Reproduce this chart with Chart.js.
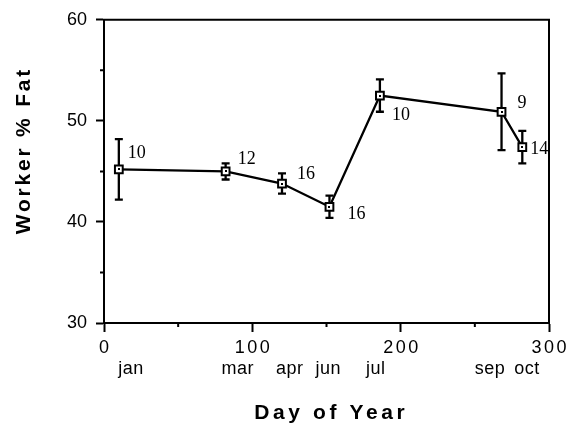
<!DOCTYPE html>
<html>
<head>
<meta charset="utf-8">
<script src="https://cdn.jsdelivr.net/npm/chart.js@4.4.0/dist/chart.umd.min.js"></script>
<style>
  html, body { margin: 0; padding: 0; background: #fff; }
  #wrap { width: 577px; height: 428px; }
</style>
</head>
<body>
<div id="wrap"><canvas id="c" width="577" height="428"></canvas></div>
<script>
// Worker body fat through the year: mean, error half-width and sample size
const days = [10, 82, 120, 152, 186, 268, 282];
const fatPct = [45.2, 45.0, 43.8, 41.5, 52.5, 50.9, 47.4];
const fatErr = [3.0, 0.8, 1.0, 1.1, 1.6, 3.8, 1.6];
const sampleN = [10, 12, 16, 16, 10, 9, 14];

// Month names written under the day axis, and the day each one sits at
const months = ['jan', 'mar', 'apr', 'jun', 'jul', 'sep', 'oct'];
const monthDays = [18, 90, 125, 151, 183, 260, 285];

// Labelled ticks
const xTicks = [0, 100, 200, 300];
const yTicks = [30, 40, 50, 60];
const xTitle = 'Day of Year';
const yTitle = 'Worker % Fat';

const INK = '#000';
const SANS = '"Liberation Sans", Arial, Helvetica, sans-serif';
const SERIF = '"Liberation Serif", "Times New Roman", serif';
// where each sample-size label sits relative to its marker (px)
const nLabelOffsets = [[9, -16], [12, -12], [15, -9], [18, 7], [12, 20], [16, -9], [8, 2]];

function spacedText(ctx, text, x, y, spacing) {
  ctx.letterSpacing = spacing + 'px';
  ctx.fillText(text, x + spacing / 2, y);
  ctx.letterSpacing = '0px';
}

const decor = {
  id: 'decor',
  beforeDatasetsDraw(chart) {
    const { ctx, scales: { x, y } } = chart;
    ctx.save();
    ctx.strokeStyle = INK;
    ctx.lineWidth = 2.3;
    const cap = 4;
    days.forEach((d, i) => {
      const px = x.getPixelForValue(d);
      const top = y.getPixelForValue(fatPct[i] + fatErr[i]);
      const bot = y.getPixelForValue(fatPct[i] - fatErr[i]);
      ctx.beginPath();
      ctx.moveTo(px, top); ctx.lineTo(px, bot);
      ctx.moveTo(px - cap, top); ctx.lineTo(px + cap, top);
      ctx.moveTo(px - cap, bot); ctx.lineTo(px + cap, bot);
      ctx.stroke();
    });
    ctx.restore();
  },
  afterDatasetsDraw(chart) {
    const { ctx, scales: { x, y } } = chart;
    ctx.save();
    ctx.fillStyle = INK;
    days.forEach((d, i) => {
      const px = Math.round(x.getPixelForValue(d));
      const py = Math.round(y.getPixelForValue(fatPct[i]));
      ctx.fillRect(px - 1, py - 1, 2, 2);
    });
    // sample sizes
    ctx.font = '18px ' + SERIF;
    ctx.textAlign = 'left';
    ctx.textBaseline = 'middle';
    days.forEach((d, i) => {
      const px = x.getPixelForValue(d);
      const py = y.getPixelForValue(fatPct[i]);
      const [dx, dy] = nLabelOffsets[i];
      ctx.fillText(String(sampleN[i]), px + dx, py + dy);
    });
    ctx.restore();
  },
  afterDraw(chart) {
    const { ctx, chartArea: a, scales: { x, y } } = chart;
    ctx.save();
    ctx.strokeStyle = INK;
    ctx.lineWidth = 2;
    // top and right edges of the frame
    ctx.beginPath();
    ctx.moveTo(a.left - 1, a.top); ctx.lineTo(a.right, a.top); ctx.lineTo(a.right, a.bottom + 1);
    ctx.stroke();
    // minor ticks
    ctx.beginPath();
    [50, 150, 250].forEach(v => {
      const px = x.getPixelForValue(v);
      ctx.moveTo(px, a.bottom); ctx.lineTo(px, a.bottom + 4);
    });
    [35, 45, 55].forEach(v => {
      const py = y.getPixelForValue(v);
      ctx.moveTo(a.left, py); ctx.lineTo(a.left - 4, py);
    });
    ctx.stroke();

    ctx.fillStyle = INK;
    ctx.textBaseline = 'middle';
    ctx.textAlign = 'center';
    // day tick labels
    ctx.font = '18px ' + SANS;
    xTicks.forEach(v => spacedText(ctx, String(v), x.getPixelForValue(v), 348, 2.5));
    // month names
    months.forEach((m, i) => spacedText(ctx, m, x.getPixelForValue(monthDays[i]), 369, 0.5));
    // axis titles
    ctx.font = 'bold 21px ' + SANS;
    spacedText(ctx, xTitle, (a.left + a.right) / 2 + 3, 413, 3.6);
    ctx.translate(24, 152);
    ctx.rotate(-Math.PI / 2);
    spacedText(ctx, yTitle, 0, 0, 2.8);
    ctx.restore();
  }
};

new Chart(document.getElementById('c'), {
  type: 'scatter',
  data: {
    datasets: [{
      data: days.map((d, i) => ({ x: d, y: fatPct[i] })),
      showLine: true,
      borderColor: INK,
      borderWidth: 2.3,
      tension: 0,
      pointStyle: 'rect',
      pointRadius: 5.5,
      pointBorderWidth: 2,
      pointBorderColor: INK,
      pointBackgroundColor: '#fff'
    }]
  },
  options: {
    responsive: false,
    animation: false,
    devicePixelRatio: 1,
    layout: { padding: { top: 15, right: 28, left: 0, bottom: 0 } },
    plugins: { legend: { display: false }, tooltip: { enabled: false } },
    scales: {
      x: {
        type: 'linear',
        min: 0, max: 300,
        afterFit: s => { s.height = 105; },
        afterBuildTicks: s => { s.ticks = xTicks.map(v => ({ value: v })); },
        ticks: { display: false },
        grid: { drawOnChartArea: false, drawTicks: true, tickLength: 9, tickWidth: 2, tickColor: INK },
        border: { display: true, color: INK, width: 2 }
      },
      y: {
        min: 30, max: 60,
        afterFit: s => { s.width = 104; },
        afterBuildTicks: s => { s.ticks = yTicks.map(v => ({ value: v })); },
        ticks: { color: INK, padding: 9, font: { family: SANS, size: 18 } },
        grid: { drawOnChartArea: false, drawTicks: true, tickLength: 8, tickWidth: 2, tickColor: INK },
        border: { display: true, color: INK, width: 2 }
      }
    }
  },
  plugins: [decor]
});
</script>
</body>
</html>
